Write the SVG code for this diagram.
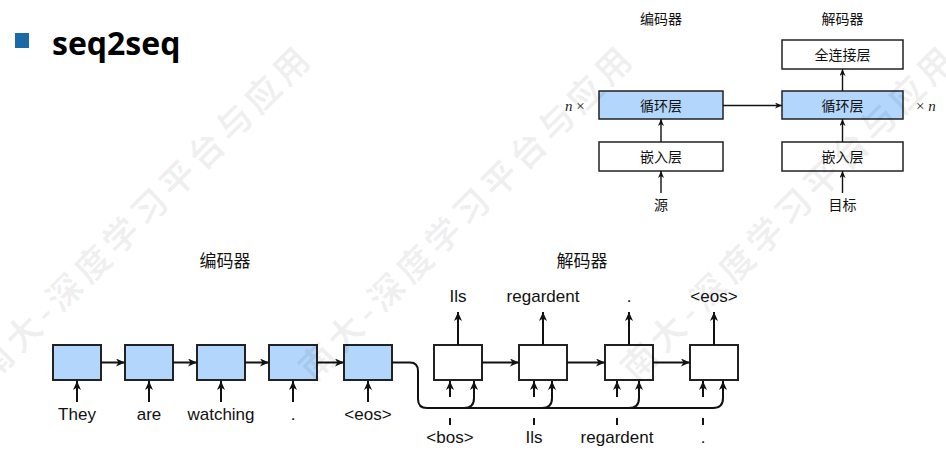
<svg xmlns="http://www.w3.org/2000/svg" width="946" height="460" viewBox="0 0 946 460">
  <defs>
    <marker id="head" markerUnits="userSpaceOnUse" markerWidth="10" markerHeight="9" refX="9" refY="4" orient="auto">
      <path d="M0,0 L9,4 L0,8 L2.5,4 z" fill="#111"/>
    </marker>
    <marker id="head-s" markerUnits="userSpaceOnUse" markerWidth="8" markerHeight="7" refX="7" refY="3" orient="auto">
      <path d="M0,0 L7,3 L0,6 L2,3 z" fill="#111"/>
    </marker>
    <style>
      .cn { font-family: "Noto Sans CJK SC", "Noto Sans", sans-serif; fill: #111; text-anchor: middle; }
      .en { font-family: "Liberation Sans", Arial, sans-serif; font-size: 17px; fill: #111; text-anchor: middle; }
      .it { font-family: "Liberation Serif", serif; font-size: 15px; fill: #222; }
      .box { stroke: #222; stroke-width: 2; }
      .box-s { stroke: #222; stroke-width: 1.5; }
      .rnn { fill: #b2d6fc; }
      .plain { fill: #fff; }
      .wire { fill: none; stroke: #111; stroke-width: 2; }
      .wire-s { fill: none; stroke: #111; stroke-width: 1.4; }
      .wm { font-family: "Noto Sans CJK SC", sans-serif; font-weight: bold; font-size: 35px; letter-spacing: 5px; fill: #000; fill-opacity: 0.06; }
    </style>
  </defs>

  <rect width="946" height="460" fill="#fff"/>

  <!-- title -->
  <g id="title">
    <rect x="15" y="33" width="14" height="15" fill="#1b6aa5"/>
    <text x="52" y="55" font-family="'Open Sans', 'Noto Sans', sans-serif" font-weight="bold" font-size="32" fill="#000">seq2seq</text>
  </g>

  <!-- layered overview: encoder / decoder stacks -->
  <g id="stack-labels">
    <text class="cn" x="661" y="23.5" font-size="14">编码器</text>
    <text class="cn" x="842.5" y="23.5" font-size="14">解码器</text>
    <text class="it" x="565" y="110.5"><tspan font-style="italic">n</tspan> ×</text>
    <text class="it" x="916" y="110.5">× <tspan font-style="italic">n</tspan></text>
  </g>
  <g id="enc-rnn">
    <rect class="box-s rnn" x="599" y="91" width="124" height="28"/>
    <text class="cn" x="661" y="110.5" font-size="14">循环层</text>
  </g>
  <g id="enc-embed">
    <rect class="box-s plain" x="599" y="142" width="124" height="29"/>
    <text class="cn" x="661" y="162" font-size="14">嵌入层</text>
  </g>
  <g id="src">
    <text class="cn" x="661" y="209.5" font-size="14">源</text>
  </g>
  <g id="dec-dense">
    <rect class="box-s plain" x="782" y="40" width="121" height="29"/>
    <text class="cn" x="842.5" y="60" font-size="14">全连接层</text>
  </g>
  <g id="dec-rnn">
    <rect class="box-s rnn" x="782" y="91" width="121" height="28"/>
    <text class="cn" x="842.5" y="110.5" font-size="14">循环层</text>
  </g>
  <g id="dec-embed">
    <rect class="box-s plain" x="782" y="142" width="121" height="29"/>
    <text class="cn" x="842.5" y="162" font-size="14">嵌入层</text>
  </g>
  <g id="tgt">
    <text class="cn" x="842.5" y="209.5" font-size="14">目标</text>
  </g>

  <g id="stack-connectors" class="wire-s">
    <line x1="723" y1="105.5" x2="782" y2="105.5" marker-end="url(#head-s)"/>
    <line x1="842.5" y1="91" x2="842.5" y2="69" marker-end="url(#head-s)"/>
    <line x1="661" y1="142" x2="661" y2="119" marker-end="url(#head-s)"/>
    <line x1="842.5" y1="142" x2="842.5" y2="119" marker-end="url(#head-s)"/>
    <line x1="661" y1="193" x2="661" y2="171" marker-end="url(#head-s)"/>
    <line x1="842.5" y1="193" x2="842.5" y2="171" marker-end="url(#head-s)"/>
  </g>

  <!-- unrolled sequence view -->
  <g id="seq-labels">
    <text class="cn" x="225" y="266.5" font-size="17">编码器</text>
    <text class="cn" x="582" y="266.5" font-size="17">解码器</text>
  </g>

  <g id="enc-1"><rect class="box rnn" x="53" y="345" width="48" height="35"/><text class="en" x="77" y="420">They</text></g>
  <g id="enc-2"><rect class="box rnn" x="125" y="345" width="48" height="35"/><text class="en" x="149" y="420">are</text></g>
  <g id="enc-3"><rect class="box rnn" x="197" y="345" width="48" height="35"/><text class="en" x="221" y="420">watching</text></g>
  <g id="enc-4"><rect class="box rnn" x="269" y="345" width="48" height="35"/><text class="en" x="293" y="420">.</text></g>
  <g id="enc-5"><rect class="box rnn" x="344" y="345" width="48" height="35"/><text class="en" x="368" y="420">&lt;eos&gt;</text></g>

  <g id="dec-1"><rect class="box plain" x="434" y="345" width="48" height="35"/><text class="en" x="458" y="302">Ils</text><text class="en" x="450" y="443">&lt;bos&gt;</text></g>
  <g id="dec-2"><rect class="box plain" x="519" y="345" width="48" height="35"/><text class="en" x="543" y="302">regardent</text><text class="en" x="534" y="443">Ils</text></g>
  <g id="dec-3"><rect class="box plain" x="605" y="345" width="48" height="35"/><text class="en" x="629" y="302">.</text><text class="en" x="617" y="443">regardent</text></g>
  <g id="dec-4"><rect class="box plain" x="690" y="345" width="48" height="35"/><text class="en" x="714" y="302">&lt;eos&gt;</text><text class="en" x="703" y="443">.</text></g>

  <g id="seq-connectors" class="wire">
    <!-- encoder inputs -->
    <line x1="77" y1="402" x2="77" y2="381" marker-end="url(#head)"/>
    <line x1="149" y1="402" x2="149" y2="381" marker-end="url(#head)"/>
    <line x1="221" y1="402" x2="221" y2="381" marker-end="url(#head)"/>
    <line x1="293" y1="402" x2="293" y2="381" marker-end="url(#head)"/>
    <line x1="368" y1="402" x2="368" y2="381" marker-end="url(#head)"/>
    <!-- encoder recurrence -->
    <line x1="101" y1="362.5" x2="125" y2="362.5" marker-end="url(#head)"/>
    <line x1="173" y1="362.5" x2="197" y2="362.5" marker-end="url(#head)"/>
    <line x1="245" y1="362.5" x2="269" y2="362.5" marker-end="url(#head)"/>
    <line x1="317" y1="362.5" x2="344" y2="362.5" marker-end="url(#head)"/>
    <!-- decoder recurrence -->
    <line x1="482" y1="362.5" x2="519" y2="362.5" marker-end="url(#head)"/>
    <line x1="567" y1="362.5" x2="605" y2="362.5" marker-end="url(#head)"/>
    <line x1="653" y1="362.5" x2="690" y2="362.5" marker-end="url(#head)"/>
    <!-- decoder outputs -->
    <line x1="458" y1="345" x2="458" y2="312" marker-end="url(#head)"/>
    <line x1="543" y1="345" x2="543" y2="312" marker-end="url(#head)"/>
    <line x1="629" y1="345" x2="629" y2="312" marker-end="url(#head)"/>
    <line x1="714" y1="345" x2="714" y2="312" marker-end="url(#head)"/>
    <!-- decoder inputs (broken where the context line crosses) -->
    <line x1="450" y1="397" x2="450" y2="381" marker-end="url(#head)"/>
    <line x1="534" y1="397" x2="534" y2="381" marker-end="url(#head)"/>
    <line x1="617" y1="397" x2="617" y2="381" marker-end="url(#head)"/>
    <line x1="703" y1="397" x2="703" y2="381" marker-end="url(#head)"/>
    <line x1="450" y1="418" x2="450" y2="425"/>
    <line x1="534" y1="418" x2="534" y2="425"/>
    <line x1="617" y1="418" x2="617" y2="425"/>
    <line x1="703" y1="418" x2="703" y2="425"/>
    <!-- context fed to every decoder step -->
    <path d="M392,362.5 H410 Q418,362.5 418,371 V399 Q418,408 427,408 H713 Q723,408 723,398 V381" marker-end="url(#head)"/>
    <path d="M464,408 Q474,408 474,398 V381" marker-end="url(#head)"/>
    <path d="M542,408 Q552,408 552,398 V381" marker-end="url(#head)"/>
    <path d="M629,408 Q639,408 639,398 V381" marker-end="url(#head)"/>
  </g>

  <!-- faint diagonal watermark -->
  <g id="watermark" class="wm">
    <text transform="translate(-8,383) rotate(-45)">南大-深度学习平台与应用</text>
    <text transform="translate(314,383) rotate(-45)">南大-深度学习平台与应用</text>
    <text transform="translate(636,383) rotate(-45)">南大-深度学习平台与应用</text>
  </g>
</svg>
